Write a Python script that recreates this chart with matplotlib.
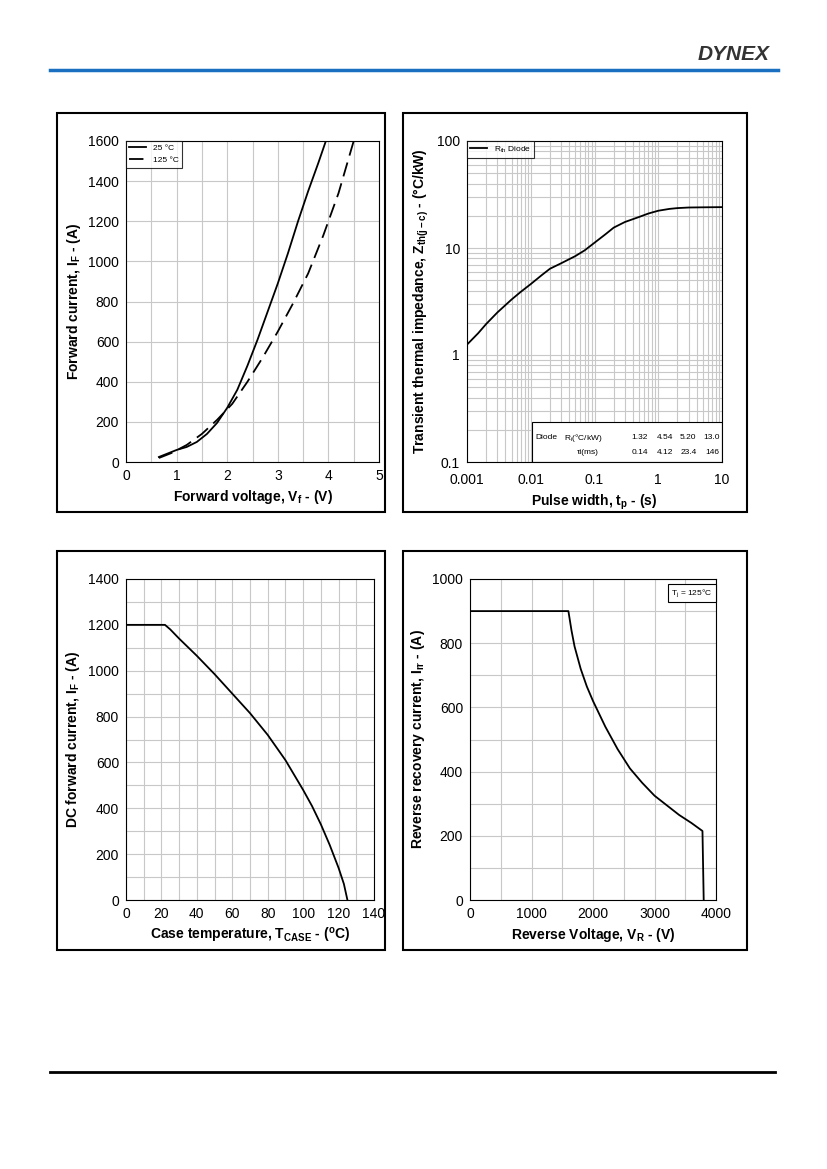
import numpy as np
import matplotlib
matplotlib.use("Agg")
import matplotlib.pyplot as plt
from matplotlib.patches import Rectangle

# forward characteristic
vf_25 = [0.65, 0.8, 1.0, 1.2, 1.4, 1.6, 1.8, 2.0, 2.2, 2.4, 2.6, 2.8, 3.0, 3.2, 3.4, 3.6, 3.8, 3.95]
if_25 = [25, 40, 60, 75, 100, 140, 195, 270, 360, 480, 610, 750, 890, 1040, 1200, 1350, 1490, 1600]
vf_125 = [0.65, 0.9, 1.2, 1.5, 1.8, 2.1, 2.4, 2.7, 3.0, 3.3, 3.6, 3.9, 4.2, 4.5]
if_125 = [20, 45, 85, 140, 210, 290, 400, 520, 650, 790, 940, 1130, 1340, 1600]
# transient thermal impedance
tp = [0.001, 0.0015, 0.002, 0.003, 0.005, 0.007, 0.01, 0.015, 0.02, 0.03, 0.05, 0.07,
      0.1, 0.15, 0.2, 0.3, 0.5, 0.7, 1, 1.5, 2, 3, 5, 10]
zth = [1.25, 1.6, 1.95, 2.5, 3.3, 3.9, 4.6, 5.6, 6.4, 7.2, 8.4, 9.5,
       11.2, 13.5, 15.5, 17.5, 19.5, 21, 22.3, 23.2, 23.6, 23.9, 24, 24.1]
# DC current derating
tcase = [0, 22, 25, 30, 40, 50, 60, 70, 80, 90, 100, 105, 110, 115, 120, 123, 125]
idc = [1200, 1200, 1180, 1140, 1065, 985, 900, 815, 720, 610, 480, 410, 330, 240, 140, 70, 0]
# reverse recovery
vr = [0, 1600, 1650, 1700, 1800, 1900, 2000, 2200, 2400, 2600, 2800, 3000, 3200, 3400, 3600, 3780, 3800]
irr = [900, 900, 840, 790, 720, 665, 620, 540, 470, 410, 365, 325, 295, 265, 240, 215, 0]

W, H = 827, 1169
fig = plt.figure(figsize=(W / 100, H / 100), dpi=100)
plt.rcParams['font.family'] = ['Liberation Sans', 'DejaVu Sans']
plt.rcParams['mathtext.fontset'] = 'custom'
plt.rcParams['mathtext.rm'] = 'Liberation Sans'
plt.rcParams['mathtext.bf'] = 'Liberation Sans:bold'
plt.rcParams['mathtext.default'] = 'regular'

def ax_at(x0, y0, x1, y1):
    return fig.add_axes([x0 / W, 1 - y1 / H, (x1 - x0) / W, (y1 - y0) / H])

for (x0, y0, x1, y1) in [(57, 113, 385, 512), (403, 113, 747, 512), (57, 551, 385, 950), (403, 551, 747, 950)]:
    fig.add_artist(Rectangle((x0 / W, 1 - y1 / H), (x1 - x0) / W, (y1 - y0) / H,
                             transform=fig.transFigure, fill=False, lw=1.5, ec="black"))

fig.add_artist(plt.Line2D([50 / W, 778 / W], [1 - 70 / H] * 2, color="#1a6fc0", lw=2.5))
fig.add_artist(plt.Line2D([50 / W, 775 / W], [1 - 1072 / H] * 2, color="black", lw=2))
fig.text(770 / W, 1 - 54 / H, "DYNEX", ha="right", va="center", fontsize=15,
         fontweight="bold", style="italic", color="#333333")

def style(ax):
    ax.tick_params(which="both", labelsize=10, length=0, pad=5)
    ax.grid(which="both", color="#c8c8c8", lw=0.8)
    ax.set_axisbelow(True)

lab = dict(fontsize=10, fontweight="bold")

ax = ax_at(126, 141, 379, 462)
ax.plot(vf_25, if_25, "k-", lw=1.3, label="25 °C")
ax.plot(vf_125, if_125, "k", ls=(0, (8, 4)), lw=1.3, label="125 °C")
ax.set_xlim(0, 5); ax.set_ylim(0, 1600)
ax.set_xticks(range(6)); ax.set_xticks(np.arange(0, 5, 0.5), minor=True)
ax.set_yticks(range(0, 1601, 200))
style(ax)
leg = ax.legend(loc="upper left", fontsize=6, borderaxespad=0, fancybox=False, edgecolor="black")
leg.get_frame().set_linewidth(0.8)
ax.set_xlabel("Forward voltage, V$_f$ - (V)", **lab)
ax.set_ylabel("Forward current, I$_F$ - (A)", **lab)

ax = ax_at(467, 141, 722, 462)
ax.loglog(tp, zth, "k-", lw=1.3, label="R$_{th}$ Diode")
ax.set_xlim(0.001, 10); ax.set_ylim(0.1, 100)
ax.set_xticks([0.001, 0.01, 0.1, 1, 10]); ax.set_xticklabels(["0.001", "0.01", "0.1", "1", "10"])
ax.set_yticks([0.1, 1, 10, 100]); ax.set_yticklabels(["0.1", "1", "10", "100"])
style(ax)
ax.tick_params(axis="x", pad=8)
leg = ax.legend(loc="upper left", fontsize=6, borderaxespad=0, fancybox=False, edgecolor="black")
leg.get_frame().set_linewidth(0.8)
ax.add_patch(Rectangle((0.255, 0), 0.745, 0.125, transform=ax.transAxes, fc="white", ec="black", lw=0.8))
rows = [["Diode", "R$_i$(°C/kW)", "1.32", "4.54", "5.20", "13.0"],
        ["", "τi(ms)", "0.14", "4.12", "23.4", "146"]]
xs = [0.27, 0.38, 0.71, 0.81, 0.9, 0.99]
for r, yy in zip(rows, [0.075, 0.03]):
    for i, (t, xx) in enumerate(zip(r, xs)):
        ax.text(xx if i != 1 else (0.38 if r[0] else 0.43), yy, t, transform=ax.transAxes,
                fontsize=6, va="center", ha="left" if i < 2 else "right")
ax.set_xlabel("Pulse width, t$_p$ - (s)", **lab)
ax.set_ylabel("Transient thermal impedance, Z$_{th(j-c)}$ - (°C/kW)", **lab)

ax = ax_at(126, 579, 374, 900)
ax.plot(tcase, idc, "k-", lw=1.3)
ax.set_xlim(0, 140); ax.set_ylim(0, 1400)
ax.set_xticks(range(0, 141, 20)); ax.set_xticks(range(0, 141, 10), minor=True)
ax.set_yticks(range(0, 1401, 200)); ax.set_yticks(range(0, 1401, 100), minor=True)
style(ax)
ax.set_xlabel("Case temperature, T$_{CASE}$ - ($^o$C)", **lab)
ax.set_ylabel("DC forward current, I$_F$ - (A)", **lab)

ax = ax_at(470, 579, 716, 900)
ax.plot(vr, irr, "k-", lw=1.3)
ax.set_xlim(0, 4000); ax.set_ylim(0, 1000)
ax.set_xticks(range(0, 4001, 1000)); ax.set_xticks(range(0, 4001, 500), minor=True)
ax.set_yticks(range(0, 1001, 200)); ax.set_yticks(range(0, 1001, 100), minor=True)
style(ax)
ax.text(0.985, 0.975, "T$_j$ = 125°C", transform=ax.transAxes, fontsize=6, ha="right", va="top",
        bbox=dict(fc="white", ec="black", lw=0.8, pad=2.5))
ax.set_xlabel("Reverse Voltage, V$_R$ - (V)", **lab)
ax.set_ylabel("Reverse recovery current, I$_{rr}$ - (A)", **lab)

fig.savefig("out.png", dpi=100)
